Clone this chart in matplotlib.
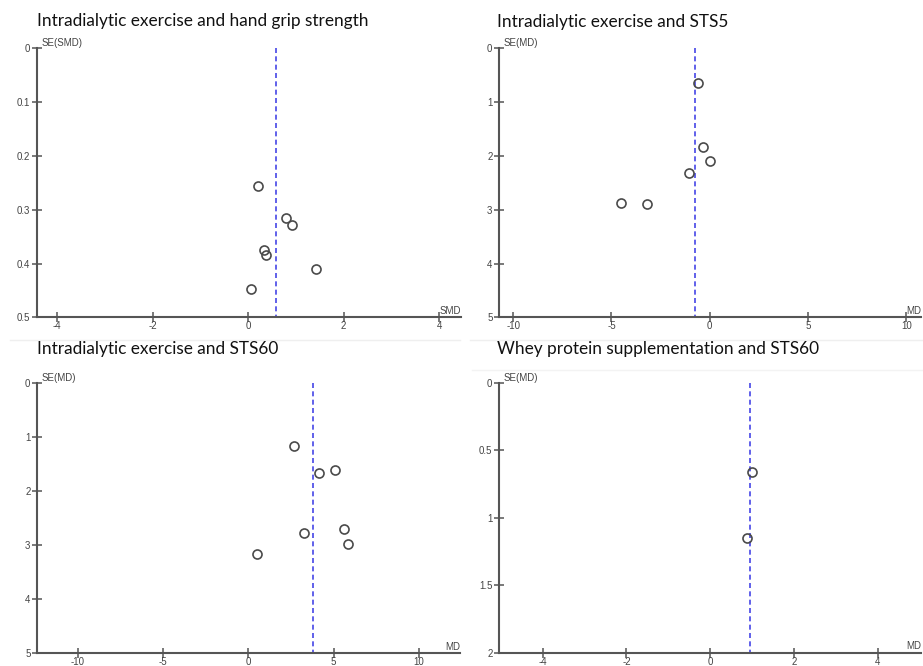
import matplotlib
matplotlib.use("Agg")
import matplotlib.pyplot as plt
from matplotlib.lines import Line2D

plt.rcParams["axes.unicode_minus"] = False

# ---- data ----
titles = [
    "Intradialytic exercise and hand grip strength",
    "Intradialytic exercise and STS5",
    "Intradialytic exercise and STS60",
    "Whey protein supplementation and STS60",
]
ylabels = ["SE(SMD)", "SE(MD)", "SE(MD)", "SE(MD)"]
xlabels = ["SMD", "MD", "MD", "MD"]

grip_effect = [0.20, 0.80, 0.91, 0.34, 0.37, 1.43, 0.07]
grip_se = [0.256, 0.316, 0.329, 0.375, 0.384, 0.410, 0.447]
grip_pooled = 0.59

sts5_effect = [-0.59, -0.34, 0.00, -1.08, -4.51, -3.19]
sts5_se = [0.645, 1.83, 2.09, 2.32, 2.875, 2.89]
sts5_pooled = -0.76

sts60_effect = [2.70, 4.14, 5.10, 5.63, 5.86, 3.28, 0.49]
sts60_se = [1.167, 1.655, 1.605, 2.70, 2.98, 2.77, 3.155]
sts60_pooled = 3.77

whey_effect = [0.995, 0.876]
whey_se = [0.664, 1.148]
whey_pooled = 0.96

effects = [grip_effect, sts5_effect, sts60_effect, whey_effect]
ses = [grip_se, sts5_se, sts60_se, whey_se]
pooled = [grip_pooled, sts5_pooled, sts60_pooled, whey_pooled]

xlims = [(-4.43, 4.46), (-10.74, 10.75), (-12.4, 12.4), (-5.05, 5.05)]
ymax = [0.5, 5, 5, 2]
xticks = [[-4, -2, 0, 2, 4], [-10, -5, 0, 5, 10], [-10, -5, 0, 5, 10], [-4, -2, 0, 2, 4]]
yticks = [[0, 0.1, 0.2, 0.3, 0.4, 0.5], [0, 1, 2, 3, 4, 5], [0, 1, 2, 3, 4, 5], [0, 0.5, 1, 1.5, 2]]

# axes boxes in pixels (left, right, top, bottom) and title positions
W, H = 923, 666
boxes = [(36.7, 461, 48.3, 317.3), (498.7, 921, 48.3, 317.3),
         (36.7, 460, 383.3, 653.3), (498.7, 921.5, 382.7, 652.7)]
title_pos = [(37, 21), (497, 22), (37, 349), (497, 349)]

fig = plt.figure(figsize=(W / 100, H / 100), dpi=100)
fig.patch.set_facecolor("white")

# faint separators from the original collage
fig.add_artist(Line2D([10 / W, 460 / W], [1 - 340 / H, 1 - 340 / H], color="#efefef", lw=1))
fig.add_artist(Line2D([470 / W, 923 / W], [1 - 340 / H, 1 - 340 / H], color="#efefef", lw=1))
fig.add_artist(Line2D([472 / W, 923 / W], [1 - 370 / H, 1 - 370 / H], color="#f3f3f3", lw=1))

axis_col = "#555555"
for i in range(4):
    l, r, t, b = boxes[i]
    ax = fig.add_axes([l / W, 1 - b / H, (r - l) / W, (b - t) / H])
    ax.set_xlim(*xlims[i])
    ax.set_ylim(ymax[i], 0)
    ax.set_xticks(xticks[i])
    ax.set_xticklabels([f"{v:g}" for v in xticks[i]])
    ax.set_yticks(yticks[i])
    ax.set_yticklabels([f"{v:g}" for v in yticks[i]])
    for s in ["top", "right"]:
        ax.spines[s].set_visible(False)
    for s in ["left", "bottom"]:
        ax.spines[s].set_color(axis_col)
        ax.spines[s].set_linewidth(1.5)
    ax.tick_params(direction="inout", length=7, width=1.1, color=axis_col,
                   labelsize=7, labelcolor="#444444")
    ax.tick_params(axis="x", pad=-0.5)
    ax.tick_params(axis="y", pad=1)
    for lab in ax.get_xticklabels() + ax.get_yticklabels():
        lab.set_family("Liberation Sans")

    ax.plot([pooled[i], pooled[i]], [0, ymax[i]], color="#4545e6", lw=1.2,
            linestyle=(0, (3, 2)), zorder=2)
    ax.plot(effects[i], ses[i], linestyle="none", marker="o", markersize=6.5,
            markerfacecolor="none", markeredgecolor="#4a4a4a", markeredgewidth=1.2, zorder=3)

    ax.text(0.012, 1.0, ylabels[i], transform=ax.transAxes, ha="left", va="bottom",
            fontsize=7, color="#444444", family="Liberation Sans")
    ax.text(1.0, 0.005, xlabels[i], transform=ax.transAxes, ha="right", va="bottom",
            fontsize=7, color="#444444", family="Liberation Sans")

    tx, ty = title_pos[i]
    fig.text(tx / W, 1 - ty / H, titles[i], ha="left", va="center",
             fontsize=12.4, color="#111111", family="Lato")

fig.savefig("out.png", dpi=100, facecolor="white")
